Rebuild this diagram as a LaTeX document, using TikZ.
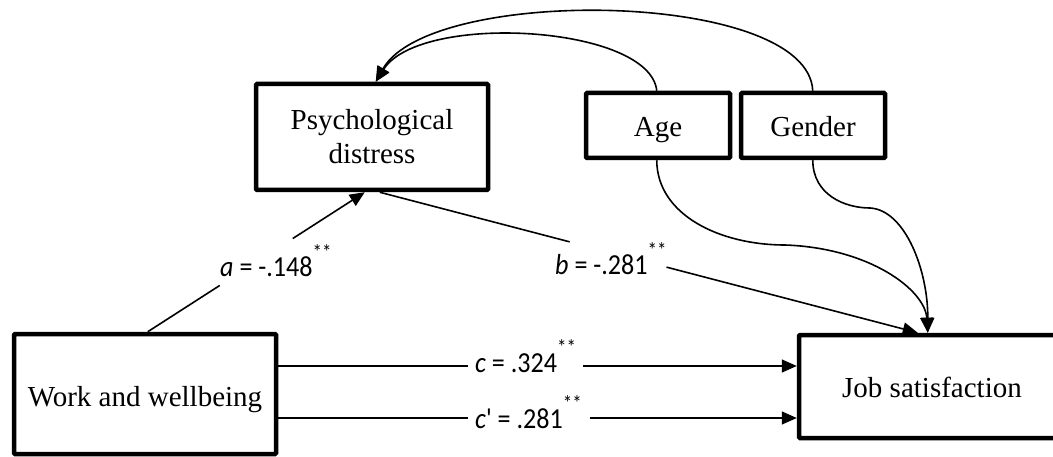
\documentclass[tikz,border=0pt]{standalone}
\usepackage{fontspec}
\setmainfont{Liberation Serif}
\newfontfamily\labfont{Carlito}
\usetikzlibrary{arrows.meta}
\newcommand\sigstars{\raisebox{0.62em}{\fontsize{21}{21}\selectfont **}}
\newcommand\labtext[1]{\scalebox{0.9}[1]{\labfont\fontsize{29}{32}\selectfont #1}}
\tikzset{
  box/.style={draw, line width=4.5pt, rounded corners=1pt, align=center, inner sep=0pt,
    font=\fontsize{29}{34}\selectfont},
  conn/.style={line width=1.6pt},
  arr/.style={conn, -{Triangle[length=15pt,width=13pt]}},
  lab/.style={anchor=base west, inner sep=0pt},
}
\begin{document}
\begin{tikzpicture}[x=1pt,y=-1pt]
\useasboundingbox (0,0) rectangle (1053,457);
% boxes
\node[box, minimum width=232pt, minimum height=106pt] (p) at (372,137) {Psychological\\distress};
\node[box, minimum width=144pt, minimum height=65pt, text height=26pt, text depth=3pt] (ag) at (658,125.5) {Age};
\node[box, minimum width=144pt, minimum height=65pt, text height=26pt, text depth=3pt] (g) at (813,125.5) {Gender};
\node[box, minimum width=262pt, minimum height=120pt, text height=27pt, text depth=3pt] (w) at (145,394) {Work and wellbeing};
\node[box, minimum width=266pt, minimum height=103pt, text height=24pt, text depth=3pt] (j) at (932,386.5) {Job satisfaction};
% anchor coordinates
\coordinate (aS) at ([xshift=136pt]w.north west);
\coordinate (aE) at ([xshift=111pt]p.south west);
\coordinate (bS) at ([xshift=126pt]p.south west);
\coordinate (bE) at ([xshift=121pt]j.north west);
\coordinate (cvE) at ([xshift=131pt]j.north west);
\coordinate (pT) at ([xshift=122pt]p.north west);
\coordinate (agT) at ([xshift=73pt]ag.north west);
\coordinate (agB) at ([xshift=73pt]ag.south west);
\coordinate (gT) at ([xshift=74pt]g.north west);
\coordinate (gB) at ([xshift=74pt]g.south west);
\coordinate (cS) at ([yshift=28pt]w.east);
\coordinate (cE) at ([yshift=20.5pt]j.west);
\coordinate (dS) at ([yshift=-24pt]w.east);
\coordinate (dE) at ([yshift=-31.5pt]j.west);
% gaps
\path (aS) -- (aE) coordinate[pos=0.332] (a1) coordinate[pos=0.668] (a2);
\path (bS) -- (bE) coordinate[pos=0.353] (b1) coordinate[pos=0.533] (b2);
\path (cS) -- (cE) coordinate[pos=0.366] (c1) coordinate[pos=0.588] (c2);
\path (dS) -- (dE) coordinate[pos=0.366] (d1) coordinate[pos=0.601] (d2);
% connectors
\draw[conn] (aS) -- (a1);
\draw[arr] (a2) -- (aE);
\draw[conn] (bS) -- (b1);
\draw[arr] (b2) -- (bE);
\draw[conn] (cS) -- (c1);
\draw[arr] (c2) -- (cE);
\draw[conn] (dS) -- (d1);
\draw[arr] (d2) -- (dE);
% covariate curves
\draw[arr] (agT) .. controls (650,25) and (420,12) .. (pT);
\draw[arr] (gT) .. controls (808,-10) and (430,-15) .. (pT);
\draw[conn] (agB) .. controls (657,215) and (720,245) .. (785,245) coordinate (agM);
\draw[arr] (agM) .. controls (870,248) and (925,290) .. (cvE);
\draw[conn] (gB) .. controls (813,195) and (845,208) .. (870,208) coordinate (gM);
\draw[arr] (gM) .. controls (905,210) and (928,270) .. (cvE);
% labels
\node[lab] (la) at (220,277) {\labtext{\textit{a} = -.148\sigstars}};
\node[lab] (lb) at (555,275) {\labtext{\textit{b} = -.281\sigstars}};
\node[lab] (lc) at (475,372) {\labtext{\textit{c} = .324\sigstars}};
\node[lab] (ld) at (475,428) {\labtext{\textit{c}\textquotesingle\ = .281\sigstars}};
\end{tikzpicture}
\end{document}
